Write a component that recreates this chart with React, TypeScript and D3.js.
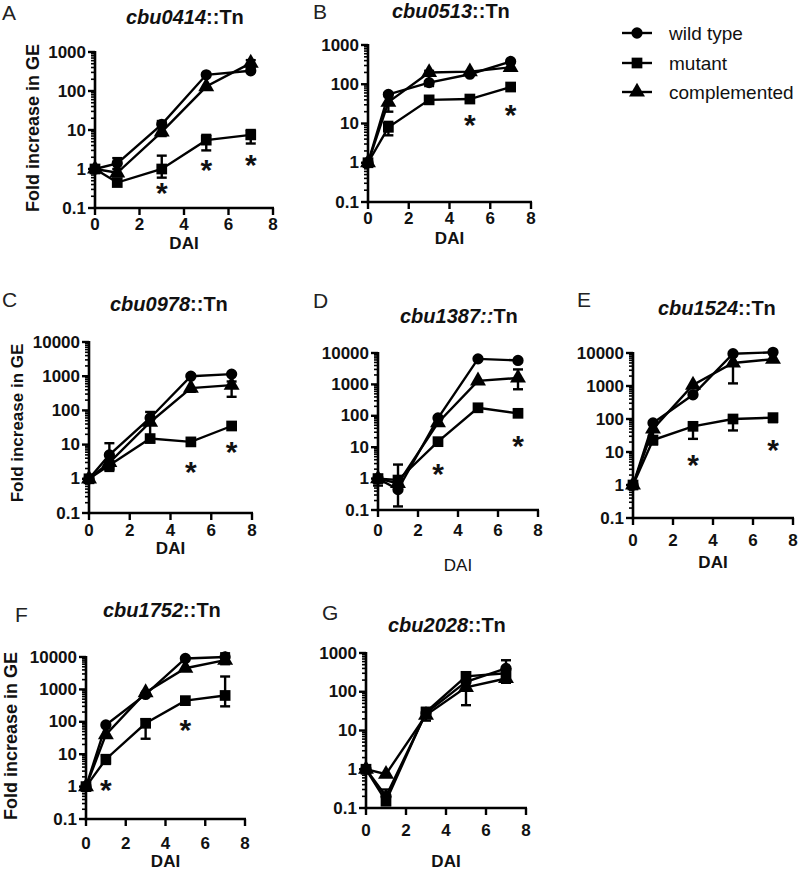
import React from "react";
import * as d3 from "d3";

// ---------- DATA ----------
const DAYS = [0, 1, 3, 5, 7];
const X_TICKS = [0, 2, 4, 6, 8];
const SERIES_NAMES = ["wild type", "mutant", "complemented"];
const PANEL_LETTERS = ["A", "B", "C", "D", "E", "F", "G"];
const GENES = ["cbu0414", "cbu0513", "cbu0978", "cbu1387", "cbu1524", "cbu1752", "cbu2028"];
const Y_MAX = [1000, 1000, 10000, 10000, 10000, 10000, 1000];

// Fold increase in GE per day (0,1,3,5,7)
const A_WT = [1, 1.4, 14, 260, 330];
const A_MUT = [1, 0.45, 1.0, 5.5, 7.5];
const A_COMP = [1, 0.8, 9, 130, 520];
const B_WT = [1, 55, 110, 180, 380];
const B_MUT = [1, 8, 40, 42, 85];
const B_COMP = [1, 35, 200, 210, 270];
const C_WT = [1, 5, 60, 1000, 1150];
const C_MUT = [1, 2.5, 15, 12, 35];
const C_COMP = [1, 3, 45, 450, 550];
const D_WT = [1, 0.45, 85, 6500, 5800];
const D_MUT = [1, 0.9, 15, 180, 120];
const D_COMP = [1, 0.7, 60, 1300, 1600];
const E_WT = [1, 76, 540, 9500, 10500];
const E_MUT = [1, 23, 60, 100, 110];
const E_COMP = [1, 50, 1070, 5000, 6500];
const F_WT = [1, 80, 700, 9000, 10000];
const F_MUT = [1, 7, 90, 450, 650];
const F_COMP = [1, 40, 800, 4500, 8000];
const G_WT = [1, 0.2, 28, 180, 400];
const G_MUT = [1, 0.15, 30, 250, 300];
const G_COMP = [1, 0.75, 25, 130, 220];

// error bars: [day, low, high]
const A_ERR = [[1, 1.0, 1.9], [3, 0.6, 2.2], [5, 3, 7.5], [7, 4.5, 10], [7, 400, 620], [3, 7, 17]];
const B_ERR = [[1, 5, 11], [1, 20, 60], [3, 90, 220]];
const C_ERR = [[1, 1.7, 11], [3, 12, 90], [7, 250, 700], [5, 350, 1100]];
const D_ERR = [[1, 0.13, 2.8], [7, 700, 3000], [0, 0.6, 1.3]];
const E_ERR = [[1, 17, 80], [3, 25, 80], [5, 45, 130], [5, 1200, 9500], [7, 80, 140]];
const F_ERR = [[1, 5, 9], [3, 30, 120], [7, 300, 2500], [7, 6000, 13000]];
const G_ERR = [[5, 45, 280], [7, 170, 650], [1, 0.12, 0.3], [3, 18, 38]];

// significance asterisks: [day, y-position value]
const A_AST = [[3, 0.36], [5, 1.4], [7, 1.9]];
const B_AST = [[5, 14], [7, 25]];
const C_AST = [[5, 2.6], [7, 10]];
const D_AST = [[3, 2.4], [7, 18]];
const E_AST = [[3, 6.6], [7, 19]];
const F_AST = [[1, 1.3], [5, 93]];
const G_AST: number[][] = [];

const WT = [A_WT, B_WT, C_WT, D_WT, E_WT, F_WT, G_WT];
const MUT = [A_MUT, B_MUT, C_MUT, D_MUT, E_MUT, F_MUT, G_MUT];
const COMP = [A_COMP, B_COMP, C_COMP, D_COMP, E_COMP, F_COMP, G_COMP];
const ERRS = [A_ERR, B_ERR, C_ERR, D_ERR, E_ERR, F_ERR, G_ERR];
const ASTS = [A_AST, B_AST, C_AST, D_AST, E_AST, F_AST, G_AST];

// ---------- LAYOUT ----------
const LAYOUT = [
  { x0: 95, x8: 273, yTop: 52, yBot: 208, tickDy: 16, daiY: 243, daiBold: true, daiSize: 17, ylab: { x: 33, y: 128, size: 18 }, title: { x: 126, y: 24 }, letter: { x: 2, y: 20 }, colonsItalic: false },
  { x0: 368, x8: 531, yTop: 45, yBot: 202, tickDy: 16, daiY: 238, daiBold: true, daiSize: 17, ylab: null, title: { x: 392, y: 18 }, letter: { x: 313, y: 19 }, colonsItalic: false },
  { x0: 89, x8: 252, yTop: 342, yBot: 513, tickDy: 17, daiY: 548, daiBold: true, daiSize: 17, ylab: { x: 17, y: 423, size: 17 }, title: { x: 110, y: 311 }, letter: { x: 2, y: 307 }, colonsItalic: false },
  { x0: 378, x8: 538, yTop: 353, yBot: 510, tickDy: 20, daiY: 565, daiBold: false, daiSize: 17, ylab: null, title: { x: 400, y: 323 }, letter: { x: 313, y: 308 }, colonsItalic: true },
  { x0: 633, x8: 793, yTop: 353, yBot: 518, tickDy: 22, daiY: 562, daiBold: true, daiSize: 17, ylab: null, title: { x: 658, y: 315 }, letter: { x: 577, y: 307 }, colonsItalic: false },
  { x0: 86, x8: 245, yTop: 657, yBot: 819, tickDy: 24, daiY: 861, daiBold: true, daiSize: 17, ylab: { x: 11, y: 736, size: 18 }, title: { x: 103, y: 617 }, letter: { x: 15, y: 622 }, colonsItalic: false },
  { x0: 366, x8: 526, yTop: 653, yBot: 808, tickDy: 22, daiY: 861, daiBold: true, daiSize: 17, ylab: null, title: { x: 388, y: 632 }, letter: { x: 322, y: 620 }, colonsItalic: false },
];

const FONT = "'Liberation Sans', Arial, Helvetica, sans-serif";
const SYMBOLS = [d3.symbolCircle, d3.symbolSquare, d3.symbolTriangle];
const SYMBOL_SIZES = [100, 115, 110];

function Panel({ i }: { i: number }) {
  const L = LAYOUT[i];
  const yMax = Y_MAX[i];
  const x = d3.scaleLinear().domain([0, 8]).range([L.x0, L.x8]);
  const y = d3.scaleLog().domain([0.1, yMax]).range([L.yBot, L.yTop]);
  const topExp = Math.round(Math.log10(yMax));
  const majors = d3.range(-1, topExp + 1).map((k) => Math.pow(10, k));
  const minors: number[] = [];
  for (let k = -1; k < topExp; k++) for (let m = 2; m <= 9; m++) minors.push(m * Math.pow(10, k));
  const series = [WT[i], MUT[i], COMP[i]];
  const line = d3
    .line<number>()
    .x((_, j) => x(DAYS[j]))
    .y((v) => y(v));
  const fmt = (v: number) => (v < 1 ? "0.1" : String(Math.round(v)));
  const ax = L.x0;
  const ab = L.yBot;
  return (
    <g>
      <text x={L.letter.x} y={L.letter.y} fontFamily={FONT} fontSize={21} fill="#222">
        {PANEL_LETTERS[i]}
      </text>
      <text x={L.title.x} y={L.title.y} fontFamily={FONT} fontSize={20} fontWeight="bold" fill="#111">
        <tspan fontStyle="italic">{GENES[i] + (L.colonsItalic ? "::" : "")}</tspan>
        <tspan>{(L.colonsItalic ? "" : "::") + "Tn"}</tspan>
      </text>
      {L.ylab && (
        <text
          transform={`translate(${L.ylab.x},${L.ylab.y}) rotate(-90)`}
          textAnchor="middle"
          dominantBaseline="central"
          fontFamily={FONT}
          fontSize={L.ylab.size}
          fontWeight="bold"
          fill="#111"
        >
          Fold increase in GE
        </text>
      )}
      <line x1={ax} x2={ax} y1={y(yMax) - 1} y2={ab + 1.2} stroke="#000" strokeWidth={2.6} />
      <line x1={ax - 1.2} x2={x(8) + 1} y1={ab} y2={ab} stroke="#000" strokeWidth={2.6} />
      {majors.map((v) => (
        <g key={"M" + v}>
          <line x1={ax - 7} x2={ax} y1={y(v)} y2={y(v)} stroke="#000" strokeWidth={2.4} />
          <text
            x={ax - 9}
            y={y(v)}
            textAnchor="end"
            dominantBaseline="central"
            fontFamily={FONT}
            fontSize={17}
            fontWeight="bold"
            fill="#111"
          >
            {fmt(v)}
          </text>
        </g>
      ))}
      {minors.map((v) => (
        <line key={"m" + v} x1={ax - 4} x2={ax} y1={y(v)} y2={y(v)} stroke="#000" strokeWidth={1.6} />
      ))}
      {X_TICKS.map((t) => (
        <g key={"x" + t}>
          <line x1={x(t)} x2={x(t)} y1={ab} y2={ab + 7} stroke="#000" strokeWidth={2.4} />
          <text
            x={x(t)}
            y={ab + L.tickDy}
            textAnchor="middle"
            dominantBaseline="central"
            fontFamily={FONT}
            fontSize={17}
            fontWeight="bold"
            fill="#111"
          >
            {t}
          </text>
        </g>
      ))}
      <text
        x={(x(0) + x(8)) / 2}
        y={L.daiY}
        textAnchor="middle"
        dominantBaseline="central"
        fontFamily={FONT}
        fontSize={L.daiSize}
        fontWeight={L.daiBold ? "bold" : "normal"}
        fill="#111"
      >
        DAI
      </text>
      {series.map((s, k) => (
        <path key={"l" + k} d={line(s) || ""} fill="none" stroke="#000" strokeWidth={2.4} />
      ))}
      {ERRS[i].map((e, k) => (
        <g key={"e" + k} stroke="#000" strokeWidth={2.4}>
          <line x1={x(e[0])} x2={x(e[0])} y1={y(e[1])} y2={y(e[2])} />
          <line x1={x(e[0]) - 5} x2={x(e[0]) + 5} y1={y(e[1])} y2={y(e[1])} />
          <line x1={x(e[0]) - 5} x2={x(e[0]) + 5} y1={y(e[2])} y2={y(e[2])} />
        </g>
      ))}
      {series.map((s, k) =>
        s.map((v, j) => (
          <path
            key={"p" + k + "-" + j}
            transform={`translate(${x(DAYS[j])},${y(v)})`}
            d={d3.symbol().type(SYMBOLS[k]).size(SYMBOL_SIZES[k])() || ""}
            fill="#000"
          />
        ))
      )}
      {ASTS[i].map((a, k) => (
        <text
          key={"a" + k}
          x={x(a[0])}
          y={y(a[1]) + 17}
          textAnchor="middle"
          fontFamily={FONT}
          fontSize={30}
          fontWeight="bold"
          fill="#111"
        >
          *
        </text>
      ))}
    </g>
  );
}

function Legend() {
  const rows = [33, 63, 92];
  return (
    <g>
      {SERIES_NAMES.map((n, k) => (
        <g key={n}>
          <line x1={622} x2={652} y1={rows[k]} y2={rows[k]} stroke="#000" strokeWidth={2.4} />
          <path
            transform={`translate(637,${rows[k]})`}
            d={d3.symbol().type(SYMBOLS[k]).size(SYMBOL_SIZES[k])() || ""}
            fill="#000"
          />
          <text x={669} y={rows[k]} dominantBaseline="central" fontFamily={FONT} fontSize={19} fill="#111">
            {n}
          </text>
        </g>
      ))}
    </g>
  );
}

export default function App() {
  return (
    <svg
      width={800}
      height={873}
      viewBox="0 0 800 873"
      style={{ position: "absolute", left: 0, top: 0, background: "#fff" }}
    >
      <rect width={800} height={873} fill="#fff" />
      {PANEL_LETTERS.map((_, i) => (
        <Panel key={i} i={i} />
      ))}
      <Legend />
    </svg>
  );
}
